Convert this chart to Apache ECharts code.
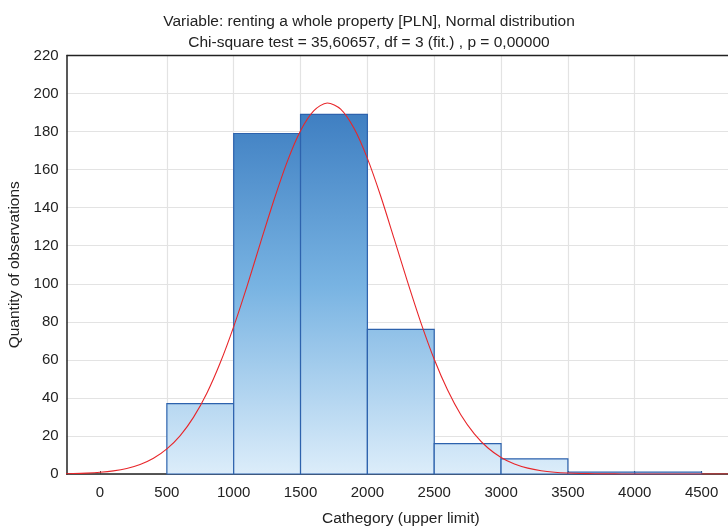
<!DOCTYPE html>
<html><head><meta charset="utf-8">
<script src="https://cdn.jsdelivr.net/npm/echarts@6/dist/echarts.min.js"></script>
<style>html,body{margin:0;padding:0;background:#fff}#c{width:728px;height:527px}</style>
</head><body><div id="c"></div>
<script>
var binStarts = [0, 500, 1000, 1500, 2000, 2500, 3000, 3500, 4000];
var binEnds   = [500, 1000, 1500, 2000, 2500, 3000, 3500, 4000, 4500];
var counts    = [0, 37, 179, 189, 76, 16, 8, 1, 1];
var curveX = [-300,-200,-100,0,100,200,300,400,500,600,700,800,900,1000,1100,1200,1300,1400,1500,1600,1700,1800,1900,2000,2100,2200,2300,2400,2500,2600,2700,2800,2900,3000,3100,3200,3300,3400,3500,3600,3700,3800,3900,4000,4200,4400,4600,4800];
var curveY = [0.11,0.23,0.46,0.88,1.63,2.91,5.0,8.26,13.2,20.2,29.9,42.6,58.6,77.5,98.8,121.5,143.8,164.1,180.4,191.0,195.0,191.8,181.7,165.9,146.0,123.7,101.1,79.6,60.3,44.1,31.0,21.1,13.8,8.7,5.26,3.08,1.73,0.94,0.49,0.25,0.12,0.06,0.03,0.01,0,0,0,0];
var xTicks = [0,500,1000,1500,2000,2500,3000,3500,4000,4500];

var F = 'Liberation Sans, Arial, sans-serif';
var chart = echarts.init(document.getElementById('c'), null, {renderer:'canvas'});
var grad = new echarts.graphic.LinearGradient(0, 55, 0, 474, [
  {offset:0, color:'#3470b8'},
  {offset:0.14, color:'#3f7fc2'},
  {offset:0.55, color:'#78b3e2'},
  {offset:1, color:'#dcedfa'}
], true);
var binData = binStarts.map(function(s,i){return [s, binEnds[i], counts[i]];}).filter(function(d){return d[2]>0;});
chart.setOption({
  animation:false,
  title:{
    text:'Variable: renting a whole property [PLN], Normal distribution\nChi-square test = 35,60657, df = 3 (fit.) , p = 0,00000',
    left:364, textAlign:'center', top:6,
    textStyle:{fontFamily:F, fontSize:15.5, fontWeight:'normal', color:'#222', lineHeight:21}
  },
  grid:{left:66.6, right:-7, top:55.5, bottom:53, containLabel:false, outerBoundsMode:'none'},
  xAxis:{
    type:'value', min:-250, max:4750, interval:250,
    name:'Cathegory (upper limit)', nameLocation:'middle', nameGap:37,
    nameTextStyle:{fontFamily:F, fontSize:15.5, color:'#222'},
    axisLine:{show:true, onZero:false, lineStyle:{color:'#222', width:1.5}},
    axisTick:{show:true, inside:true, length:3, lineStyle:{color:'#444'}, customValues:xTicks},
    axisLabel:{fontFamily:F, fontSize:15, color:'#222', margin:11, customValues:xTicks, formatter:function(v){return String(v);}},
    splitLine:{show:true, lineStyle:{color:'#e3e3e3', width:1.2}, showMinLine:false, showMaxLine:false}
  },
  yAxis:{
    type:'value', min:0, max:220, interval:20,
    name:'Quantity of observations', nameLocation:'middle', nameGap:43, nameRotate:90,
    nameTextStyle:{fontFamily:F, fontSize:15.5, color:'#222'},
    axisLine:{show:true, onZero:false, lineStyle:{color:'#222', width:1.5}},
    axisTick:{show:false},
    axisLabel:{fontFamily:F, fontSize:15, color:'#222', margin:8},
    splitLine:{show:true, lineStyle:{color:'#e3e3e3', width:1.2}}
  },
  series:[
    {
      type:'custom', z:2,
      data:binData,
      encode:{x:[0,1], y:2},
      renderItem:function(params, api){
        var p0 = api.coord([api.value(0), api.value(2)]);
        var p1 = api.coord([api.value(1), 0]);
        return {type:'rect', shape:{x:p0[0], y:p0[1], width:p1[0]-p0[0], height:p1[1]-p0[1]},
          style:{fill:grad, stroke:'#2d62ad', lineWidth:1.2}};
      }
    },
    {
      type:'line', z:5, smooth:0.3, symbol:'none', clip:true,
      data:curveX.map(function(x,i){return [x, curveY[i]];}),
      lineStyle:{color:'#e8262a', width:1.1}
    }
  ],
  graphic:[{type:'line', z:10, shape:{x1:66.6, y1:55.5, x2:735, y2:55.5}, style:{stroke:'#222', lineWidth:1.5}}]
});
</script></body></html>
